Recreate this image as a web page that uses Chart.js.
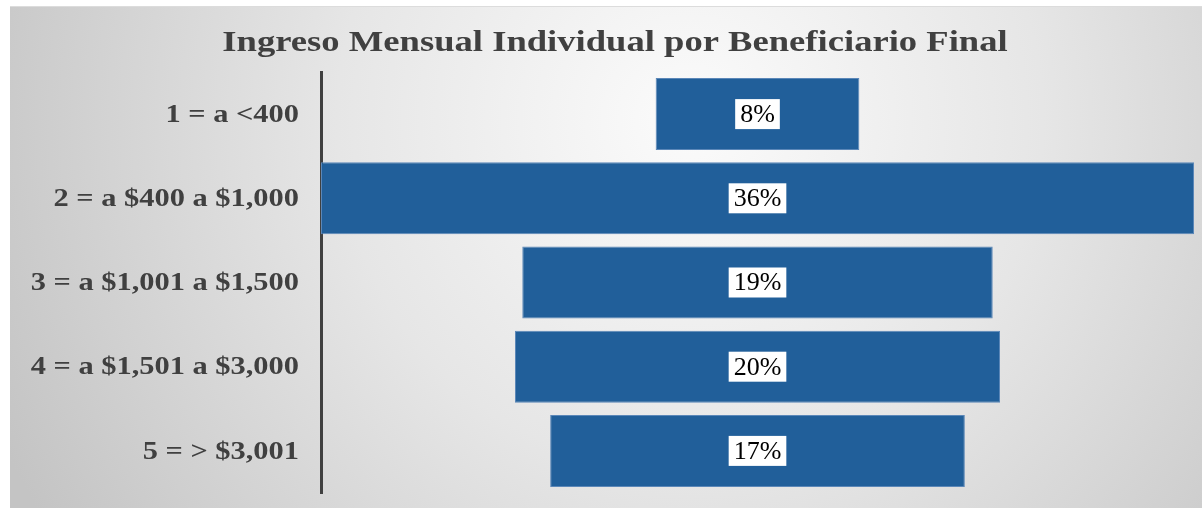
<!DOCTYPE html>
<html>
<head>
<meta charset="utf-8">
<script src="https://cdn.jsdelivr.net/npm/chart.js@4/dist/chart.umd.min.js"></script>
<style>
  body { margin: 0; background: #ffffff; }
  #wrap { width: 1202px; height: 508px; }
</style>
</head>
<body>
<div id="wrap"><canvas id="funnelChart" width="1202" height="508"></canvas></div>
<script>
// data
var chartTitle = "Ingreso Mensual Individual por Beneficiario Final";
var categories = [
    "1 = a <400",
    "2 = a $400 a $1,000",
    "3 = a $1,001 a $1,500",
    "4 = a $1,501 a $3,000",
    "5 = > $3,001"
];
var shares = [8.4, 36, 19.4, 20, 17.1];      // bar widths (percent)
var shareLabels = ["8%", "36%", "19%", "20%", "17%"];

var barColor = "#215f9a";
var textColor = "#404040";

// funnel: each bar floats around zero
var floating = shares.map(function (v) { return [-v / 2, v / 2]; });

// grey radial backdrop, like the office chart area
var backdrop = {
    id: "backdrop",
    beforeDraw: function (chart) {
        var ctx = chart.ctx;
        ctx.save();
        ctx.fillStyle = "#ffffff";
        ctx.fillRect(0, 0, chart.width, chart.height);
        var g = ctx.createRadialGradient(690, 120, 20, 690, 120, 760);
        g.addColorStop(0, "#fafafa");
        g.addColorStop(0.45, "#e6e6e6");
        g.addColorStop(1, "#c4c4c4");
        ctx.fillStyle = g;
        ctx.fillRect(10, 7, chart.width - 10, chart.height - 7);
        ctx.fillStyle = "#dcdcdc";
        ctx.fillRect(10, 6, chart.width - 10, 1);
        ctx.restore();
    }
};

// the original text is a bit stretched sideways, so draw it with a scale
function wideText(ctx, txt, x, y, sx) {
    ctx.save();
    ctx.translate(x, y);
    ctx.scale(sx, 1);
    ctx.fillText(txt, 0, 0);
    ctx.restore();
}

// title, category labels and value boxes drawn on top
var overlay = {
    id: "overlay",
    afterDraw: function (chart) {
        var ctx = chart.ctx;
        ctx.save();
        ctx.textBaseline = "middle";

        ctx.font = "bold 30px 'Liberation Serif'";
        ctx.fillStyle = textColor;
        ctx.textAlign = "center";
        wideText(ctx, chartTitle, 615, 43, 1.22);

        ctx.font = "bold 26px 'Liberation Serif'";
        ctx.textAlign = "right";
        categories.forEach(function (c, i) {
            wideText(ctx, c, 299, chart.scales.y.getPixelForValue(i) + 1, 1.17);
        });

        ctx.font = "26px 'Liberation Serif'";
        ctx.textAlign = "center";
        var meta = chart.getDatasetMeta(0);
        meta.data.forEach(function (bar, i) {
            var p = bar.getProps(["x", "base", "y"], true);
            var cx = (p.x + p.base) / 2;
            var txt = shareLabels[i];
            var w = ctx.measureText(txt).width + 10;
            ctx.fillStyle = "#ffffff";
            ctx.fillRect(cx - w / 2, p.y - 15, w, 30);
            ctx.fillStyle = "#000000";
            ctx.fillText(txt, cx, p.y + 1);
        });
        ctx.restore();
    }
};

var funnelChart = new Chart(document.getElementById("funnelChart"), {
    type: "bar",
    data: {
        labels: categories,
        datasets: [{
            data: floating,
            backgroundColor: barColor,
            borderColor: "#5b87b8",
            borderWidth: 1,
            borderSkipped: false,
            categoryPercentage: 1,
            barPercentage: 0.855
        }]
    },
    options: {
        indexAxis: "y",
        responsive: false,
        animation: false,
        layout: { padding: { top: 72, bottom: 15, right: 8, left: 0 } },
        plugins: {
            legend: { display: false },
            title: { display: false },
            tooltip: { enabled: false }
        },
        scales: {
            x: { display: false, min: -18, max: 18 },
            y: {
                afterFit: function (scale) { scale.width = 321; },
                grid: { display: false, drawTicks: false },
                border: { display: true, color: "#404040", width: 3 },
                ticks: { display: false }
            }
        }
    },
    plugins: [backdrop, overlay]
});
</script>
</body>
</html>
